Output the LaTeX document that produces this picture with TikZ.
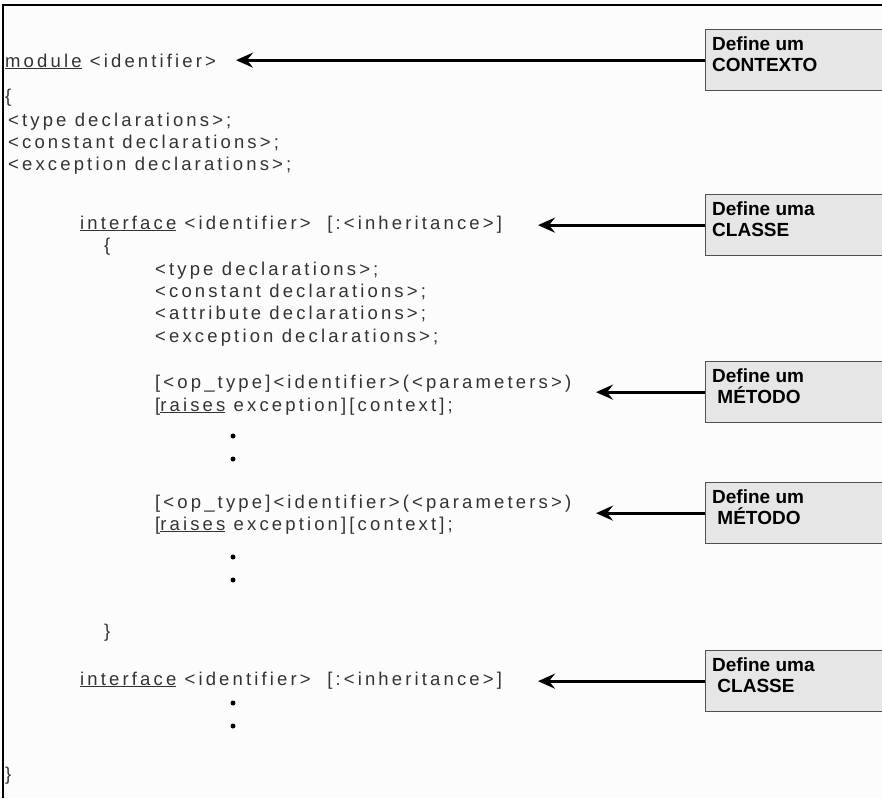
\documentclass[tikz,border=0pt]{standalone}
\usepackage{fontspec}
\setmainfont{Liberation Sans}
\newfontfamily\codefont[LetterSpace=17]{Liberation Sans}
\usetikzlibrary{arrows.meta}
\definecolor{codegray}{HTML}{333333}
\definecolor{boxfill}{HTML}{E6E6E6}
\definecolor{boxline}{HTML}{505050}
\definecolor{paper}{HTML}{FDFCFD}
\begin{document}
\begin{tikzpicture}[x=1pt,y=-1pt,
  code/.style={anchor=base west, inner sep=0pt, text=codegray,
    font=\codefont\fontsize{18.5}{20}\selectfont},
  notebox/.style={draw=boxline, line width=1.3pt, fill=boxfill, anchor=north west,
    minimum width=200pt, minimum height=61pt, inner sep=0pt},
  notetext/.style={anchor=north west, inner sep=0pt, align=left,
    font=\bfseries\fontsize{19}{21}\selectfont},
  ptr/.style={line width=3pt, -{Stealth[length=17pt,width=15pt,inset=6pt]}},
  vdot/.style={circle, fill=black, inner sep=0pt, minimum size=5pt}]
\useasboundingbox (0,0) rectangle (882,798);
\fill[paper] (0,0) rectangle (882,798);
\begin{scope}
\clip (0,0) rectangle (882,798);
% frame
\draw[line width=2.6pt] (3,798) -- (3,5) -- (882,5);

% IDL listing
\node[code] (mod)   at (5,67)   {\underline{module} <identifier>};
\node[code] (ob1)   at (5,102)  {\{};
\node[code] (td1)   at (8,126)  {<type declarations>;};
\node[code] (cd1)   at (8,148)  {<constant declarations>;};
\node[code] (ed1)   at (8,170)  {<exception declarations>;};
\node[code] (if1)   at (80,229) {\underline{interface} <identifier>\ \ [:<inheritance>]};
\node[code] (ob2)   at (104,251){\{};
\node[code] (td2)   at (155,275){<type declarations>;};
\node[code] (cd2)   at (155,297){<constant declarations>;};
\node[code] (ad2)   at (155,319){<attribute declarations>;};
\node[code] (ed2)   at (155,342){<exception declarations>;};
\node[code] (op1)   at (155,388){[<op\_type]<identifier>(<parameters>)};
\node[code] (rs1)   at (155,411){[\underline{raises} exception][context];};
\node[vdot] (d1a) at (233,436) {};
\node[vdot] (d1b) at (233,459) {};
\node[code] (op2)   at (155,508){[<op\_type]<identifier>(<parameters>)};
\node[code] (rs2)   at (155,530){[\underline{raises} exception][context];};
\node[vdot] (d2a) at (233,557) {};
\node[vdot] (d2b) at (233,580) {};
\node[code] (cb2)   at (104,637){\}};
\node[code] (if2)   at (80,685) {\underline{interface} <identifier>\ \ [:<inheritance>]};
\node[vdot] (d3a) at (233,703) {};
\node[vdot] (d3b) at (233,726) {};
\node[code] (cb1)   at (5,780)  {\}};

% annotation boxes
\node[notebox] (b1) at (705,29)  {};
\node[notetext] (l1) at (712,37)  {Define um\\CONTEXTO};
\node[notebox] (b2) at (705,194) {};
\node[notetext] (l2) at (712,202) {Define uma\\CLASSE};
\node[notebox] (b3) at (705,361) {};
\node[notetext] (l3) at (712,369) {Define um\\\ MÉTODO};
\node[notebox] (b4) at (705,482) {};
\node[notetext] (l4) at (712,490) {Define um\\\ MÉTODO};
\node[notebox] (b5) at (705,650) {};
\node[notetext] (l5) at (712,658) {Define uma\\\ CLASSE};

% arrow tips
\coordinate (t1) at (236,0);
\coordinate (t2) at (538,0);
\coordinate (t3) at (596,0);
\coordinate (t4) at (596,0);
\coordinate (t5) at (538,0);

\draw[ptr] (b1.west) -- (b1.west -| t1);
\draw[ptr] (b2.west) -- (b2.west -| t2);
\draw[ptr] (b3.west) -- (b3.west -| t3);
\draw[ptr] (b4.west) -- (b4.west -| t4);
\draw[ptr] (b5.west) -- (b5.west -| t5);
\end{scope}
\end{tikzpicture}
\end{document}
